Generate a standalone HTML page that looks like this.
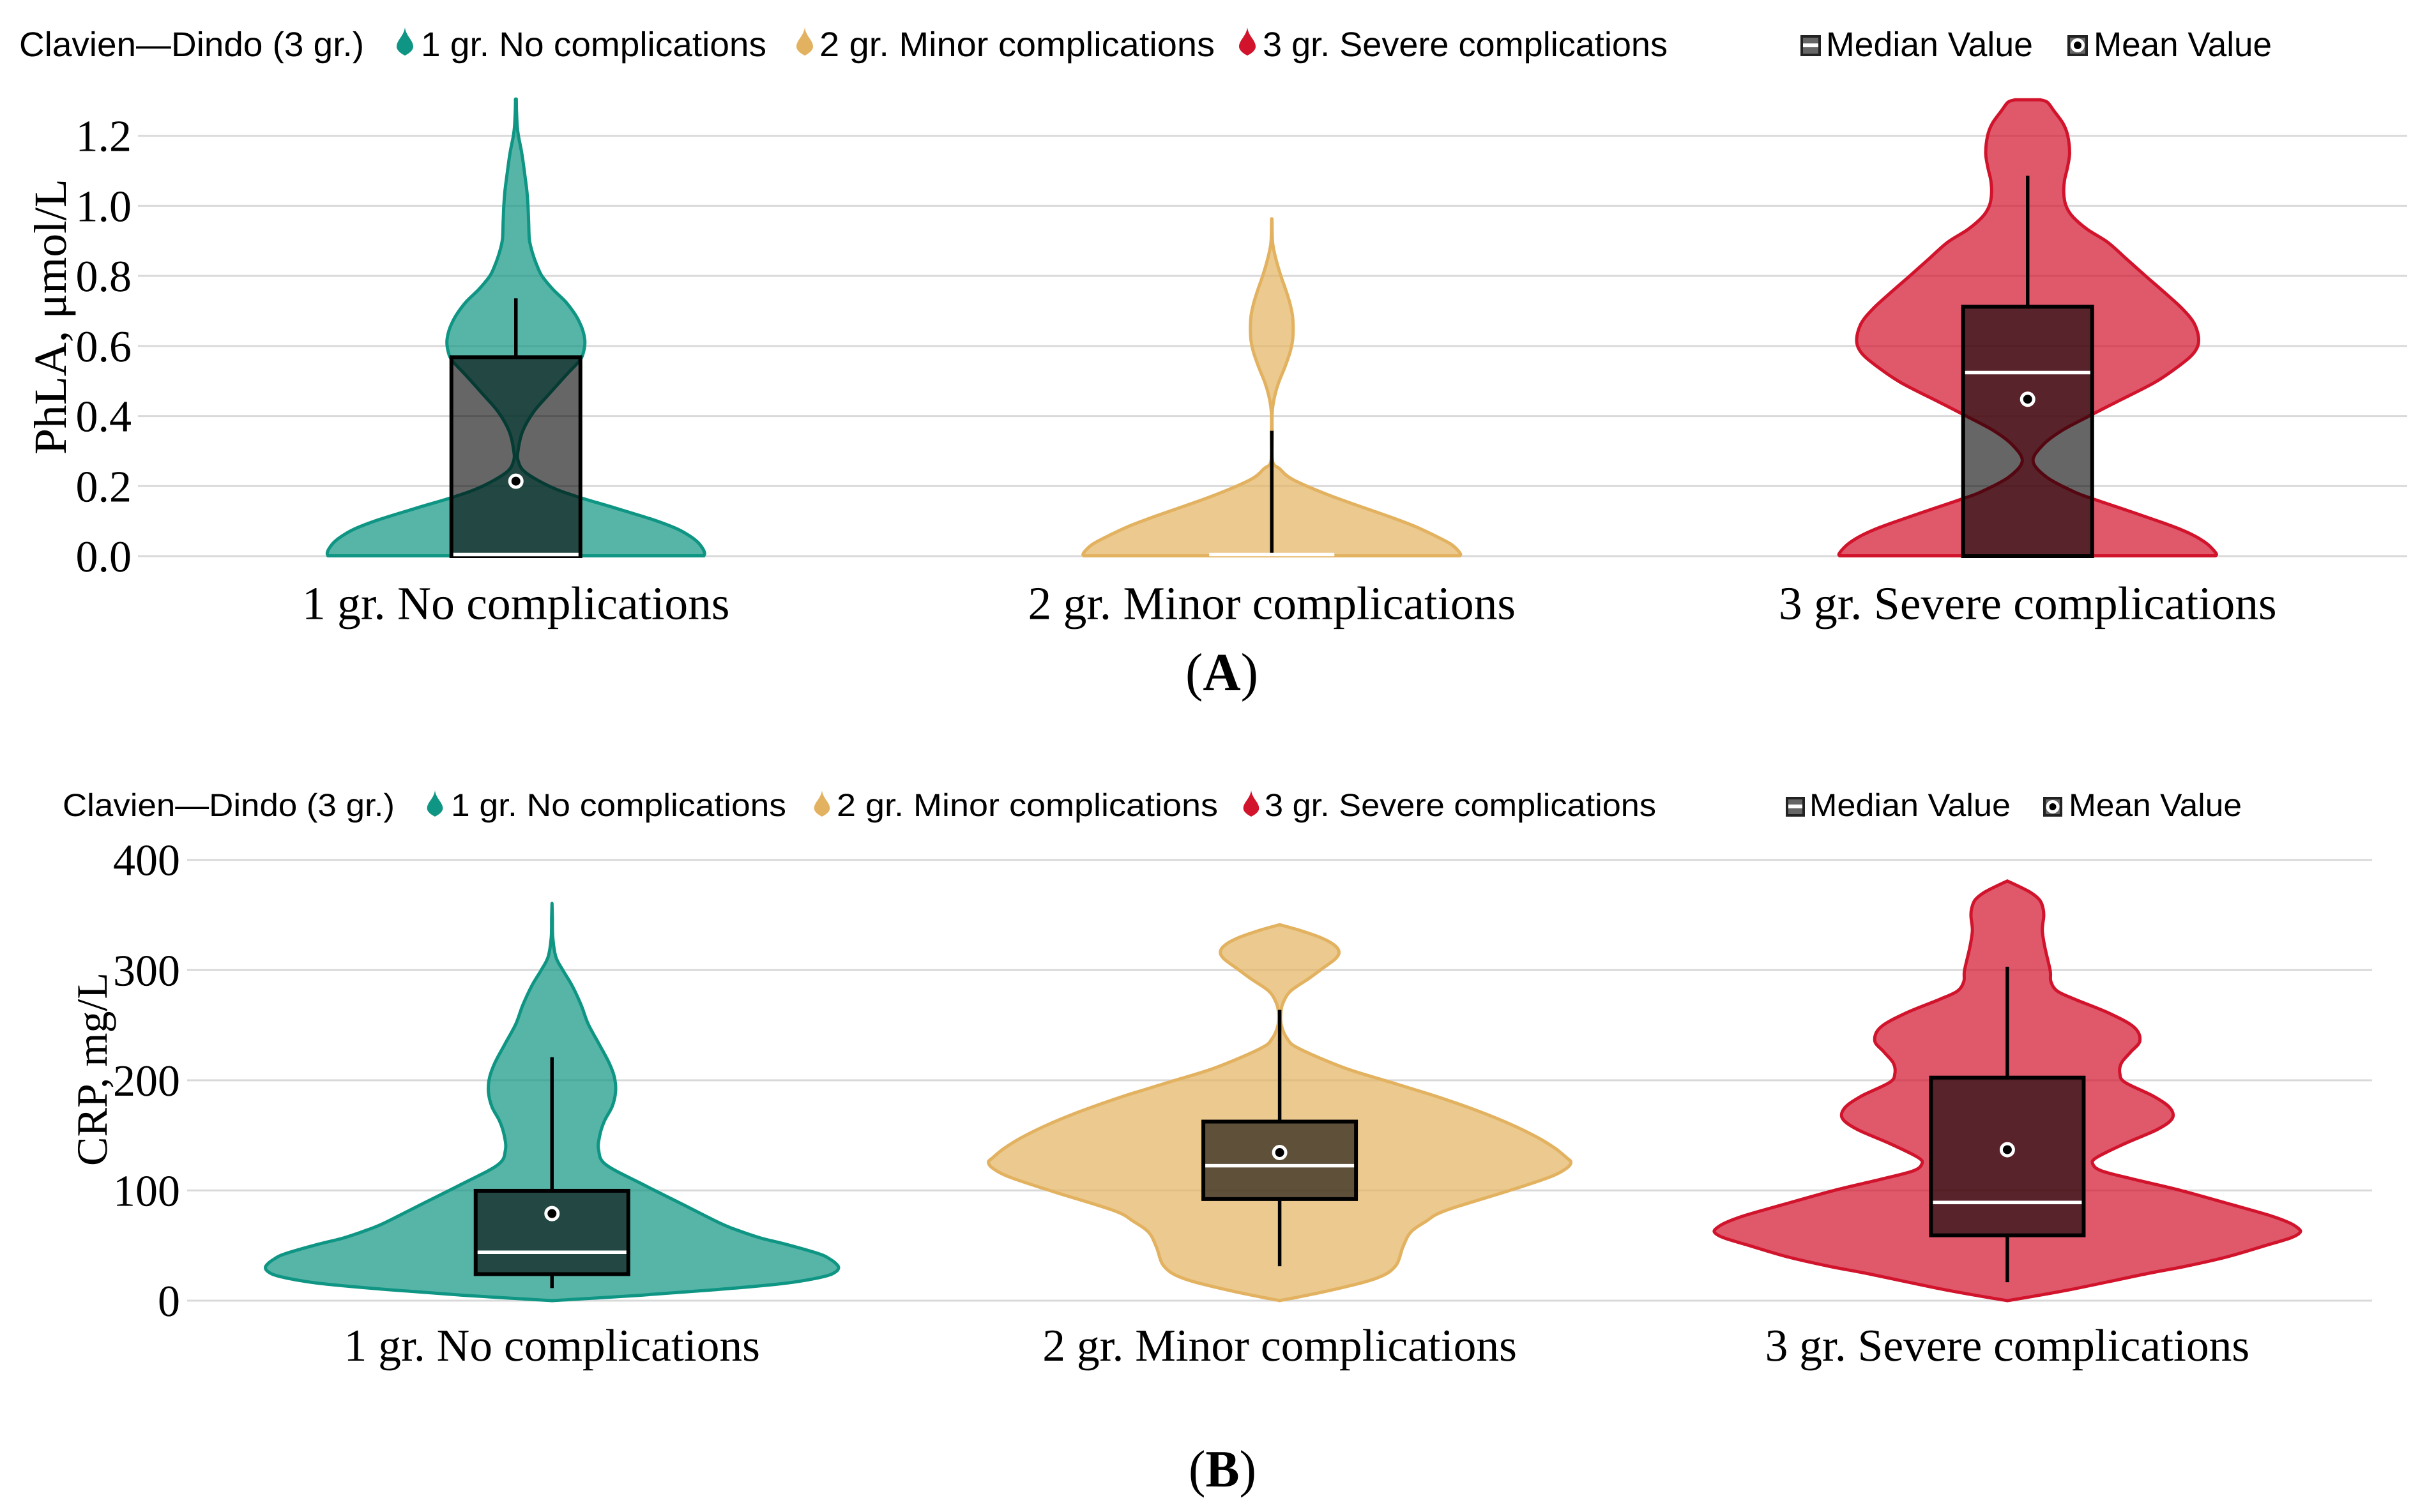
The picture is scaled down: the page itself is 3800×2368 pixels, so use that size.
<!DOCTYPE html>
<html lang="en">
<head>
<meta charset="utf-8">
<title>Clavien-Dindo violin plots</title>
<style>
html,body{margin:0;padding:0;background:#fff;}
svg{display:block;text-rendering:geometricPrecision;}
.serif{font-family:"Liberation Serif",serif;fill:#000;}
.sans{font-family:"Liberation Sans",sans-serif;fill:#000;}
</style>
</head>
<body>
<svg id="figure" xmlns="http://www.w3.org/2000/svg" width="3800" height="2368" viewBox="0 0 3800 2368">
  <rect x="0" y="0" width="3800" height="2368" fill="#fff"/>

  <g>
    <text class="sans" x="30" y="88" font-size="54" textLength="540" lengthAdjust="spacingAndGlyphs">Clavien—Dindo (3 gr.)</text>
    <path fill="#0f9583" transform="translate(634,43)" d="M0,0 C2,14 13,20 13,30 C13,36 6,41 0,44 C-6,41 -13,36 -13,30 C-13,20 -2,14 0,0 Z"/>
    <text class="sans" x="659" y="88" font-size="54" textLength="541" lengthAdjust="spacingAndGlyphs">1 gr. No complications</text>
    <path fill="#e2b260" transform="translate(1260,43)" d="M0,0 C2,14 13,20 13,30 C13,36 6,41 0,44 C-6,41 -13,36 -13,30 C-13,20 -2,14 0,0 Z"/>
    <text class="sans" x="1283" y="88" font-size="54" textLength="619" lengthAdjust="spacingAndGlyphs">2 gr. Minor complications</text>
    <path fill="#d1132c" transform="translate(1953,43)" d="M0,0 C2,14 13,20 13,30 C13,36 6,41 0,44 C-6,41 -13,36 -13,30 C-13,20 -2,14 0,0 Z"/>
    <text class="sans" x="1977" y="88" font-size="54" textLength="634" lengthAdjust="spacingAndGlyphs">3 gr. Severe complications</text>
    <g>
      <rect x="2821" y="57" width="28" height="29" fill="#666" stroke="#222" stroke-width="4"/>
      <rect x="2823" y="68" width="24" height="6" fill="#fff"/>
    </g>
    <text class="sans" x="2859" y="88" font-size="54" textLength="324" lengthAdjust="spacingAndGlyphs">Median Value</text>
    <g>
      <rect x="3239" y="57" width="28" height="29" fill="#666" stroke="#222" stroke-width="4"/>
      <circle cx="3253" cy="71" r="8.5" fill="#000" stroke="#fff" stroke-width="5"/>
    </g>
    <text class="sans" x="3278" y="88" font-size="54" textLength="279" lengthAdjust="spacingAndGlyphs">Mean Value</text>
  </g>

  <g>
    <text class="sans" x="98" y="1278" font-size="50" textLength="520" lengthAdjust="spacingAndGlyphs">Clavien—Dindo (3 gr.)</text>
    <path fill="#0f9583" transform="translate(681,1238) scale(.95,.93)" d="M0,0 C2,14 13,20 13,30 C13,36 6,41 0,44 C-6,41 -13,36 -13,30 C-13,20 -2,14 0,0 Z"/>
    <text class="sans" x="706" y="1278" font-size="50" textLength="525" lengthAdjust="spacingAndGlyphs">1 gr. No complications</text>
    <path fill="#e2b260" transform="translate(1287,1238) scale(.95,.93)" d="M0,0 C2,14 13,20 13,30 C13,36 6,41 0,44 C-6,41 -13,36 -13,30 C-13,20 -2,14 0,0 Z"/>
    <text class="sans" x="1310" y="1278" font-size="50" textLength="597" lengthAdjust="spacingAndGlyphs">2 gr. Minor complications</text>
    <path fill="#d1132c" transform="translate(1959,1238) scale(.95,.93)" d="M0,0 C2,14 13,20 13,30 C13,36 6,41 0,44 C-6,41 -13,36 -13,30 C-13,20 -2,14 0,0 Z"/>
    <text class="sans" x="1980" y="1278" font-size="50" textLength="613" lengthAdjust="spacingAndGlyphs">3 gr. Severe complications</text>
    <g>
      <rect x="2798" y="1250" width="26" height="27" fill="#666" stroke="#222" stroke-width="4"/>
      <rect x="2800" y="1260" width="22" height="6" fill="#fff"/>
    </g>
    <text class="sans" x="2833" y="1278" font-size="50" textLength="315" lengthAdjust="spacingAndGlyphs">Median Value</text>
    <g>
      <rect x="3201" y="1250" width="26" height="27" fill="#666" stroke="#222" stroke-width="4"/>
      <circle cx="3214" cy="1263.5" r="8" fill="#000" stroke="#fff" stroke-width="5"/>
    </g>
    <text class="sans" x="3239" y="1278" font-size="50" textLength="271" lengthAdjust="spacingAndGlyphs">Mean Value</text>
  </g>

  <g id="panelA"></g>
  <g id="panelB"></g>

  <text class="serif" transform="translate(103,712) rotate(-90)" font-size="72" textLength="432" lengthAdjust="spacingAndGlyphs">PhLA, μmol/L</text>
  <text class="serif" transform="translate(167,1826) rotate(-90)" font-size="68" textLength="303" lengthAdjust="spacingAndGlyphs">CRP, mg/L</text>

  <text class="serif" x="1856" y="1081" font-size="84" textLength="114" lengthAdjust="spacingAndGlyphs">(<tspan font-weight="bold">A</tspan>)</text>
  <text class="serif" x="1861" y="2328" font-size="82" textLength="106" lengthAdjust="spacingAndGlyphs">(<tspan font-weight="bold">B</tspan>)</text>
</svg>

<script>
const categories = ["1 gr. No complications", "2 gr. Minor complications", "3 gr. Severe complications"];

const aTickValues = [0, 0.2, 0.4, 0.6, 0.8, 1.0, 1.2];
const aTickLabels = ["0.0", "0.2", "0.4", "0.6", "0.8", "1.0", "1.2"];
const bTickValues = [0, 100, 200, 300, 400];
const bTickLabels = ["0", "100", "200", "300", "400"];

/* Panel A: PhLA, density profiles (value, relative density) */
const aViolin1Values = [1.305,1.2715,1.229,1.2,1.15,1.09,1.041,1.0,0.956,0.908,0.884,0.859,0.829,0.8,0.762,0.726,0.69,0.659,0.635,0.611,0.585,0.559,0.519,0.465,0.412,0.358,0.305,0.271,0.238,0.198,0.171,0.138,0.104,0.08,0.06,0.04,0.02,0.008,0.001];
const aViolin1Density = [0.5,0.8,1.7,3.3,7.7,11.5,14.3,15.7,16.5,17.3,19.3,22.5,27.5,33.8,48,64.6,77,84.4,88,89.6,88,83,66,44,23,9,3,3,13,45,78,128,178,207,224,236,243,245,244];
const aViolin2Values = [0.963,0.926,0.89,0.847,0.8,0.762,0.726,0.689,0.653,0.616,0.58,0.537,0.495,0.458,0.428,0.398,0.35,0.271,0.25,0.218,0.171,0.111,0.084,0.057,0.035,0.018,0.006,0.001];
const aViolin2Density = [0.3,0.5,1.4,5.5,11.8,17.9,23,26.7,27.8,27,23.4,16.5,8.8,3.9,1.4,0.4,0.5,1,10,28,78,155,187,213,232,241,245,244];
const aViolin3Values = [1.303,1.296,1.2715,1.235,1.2,1.15,1.108,1.072,1.035,1.0,0.968,0.932,0.896,0.847,0.8,0.756,0.708,0.665,0.617,0.581,0.544,0.496,0.441,0.423,0.398,0.358,0.318,0.271,0.225,0.184,0.164,0.13,0.098,0.075,0.055,0.035,0.018,0.006,0.001];
const aViolin3Density = [16,25.5,34,46,52,54.4,51.5,47.8,46.9,49.8,59,78,104,129,153,176,200,216,222,216,197,165,116,100,78,44,20,7,25,60,84,130,172,200,219,233,241,245,244];

const aQ1 = [0, 0, 0];
const aQ3 = [0.568, 0, 0.712];
const aMedian = [0, 0, 0.524];
const aMean = [0.214, null, 0.448];
const aWhiskerLow = [0, 0.004, 0];
const aWhiskerHigh = [0.736, 0.358, 1.086];

/* Panel B: CRP, density profiles (value, relative density) */
const bViolin1Values = [360.5,348,329.8,312,300,286,268,251,233,216,202.7,189.5,176,163,150,136.6,123.4,105.8,88.3,70.7,64.1,57,50.9,42.2,38,34,30,26,22.4,18,15,10,4.8,0];
const bViolin1Density = [0,0.5,1,5,14,26,38,47,61,74,81,82.5,78,68,62,60.5,70,117,167,217,240,270,305,348,360,368,372,368,356,325,293,213,113,0];
const bViolin2Values = [341.2,336.3,329.8,323.2,316.6,310,301.2,292.4,281.5,272.7,263.9,250.7,237.6,228.8,211,198,185,172,160,148,138,130,125.6,120,112,99.2,81.7,72,62,48.7,31.2,20.2,9.2,0];
const bViolin2Density = [0,25,52,70,77,72,55,38,15,6,2,2,10,25,85,145,205,258,300,335,358,372,378,372,350,295,215,190,170,160,150,125,65,0];
const bViolin3Values = [380.9,371,363.8,356,348.7,336,321,299.7,289.7,281,273.4,260.9,248.2,235.7,225.6,215.6,206,198,185.4,175,165.3,155.3,142.7,130,123.9,117.6,110,100,87.4,77.4,71,66,62,57,50,39.7,31,24.6,9.5,0];
const bViolin3Density = [0,28.7,41.7,46.3,47.2,45.4,48.6,55.6,56.5,64.8,88,132,164.4,172,160,148,146,153,190,211,214,194.5,153,116,111,123,165,225,290,340,365,377,380,368,335,285,230,182,78,0];

const bQ1 = [24.1, 92.2, 59.3];
const bQ3 = [99.7, 162.5, 202.4];
const bMedian = [43.9, 122.5, 89.1];
const bMean = [79, 134.4, 137];
const bWhiskerLow = [11.4, 31.2, 16.7];
const bWhiskerHigh = [220.9, 263.9, 303];

const strokeColors = ["#0f9583", "#e2b260", "#d1132c"];

const SVG_NS = "http://www.w3.org/2000/svg";

function make(tag, parent, attrs, text) {
  const node = document.createElementNS(SVG_NS, tag);
  for (const k in attrs) node.setAttribute(k, attrs[k]);
  if (text !== undefined) node.textContent = text;
  parent.appendChild(node);
  return node;
}

function linearScale(d0, d1, r0, r1) {
  return function (v) { return r0 + (v - d0) * (r1 - r0) / (d1 - d0); };
}

function smooth(points, start) {
  let d = start ? "M" + points[0][0].toFixed(1) + "," + points[0][1].toFixed(1) : "L" + points[0][0].toFixed(1) + "," + points[0][1].toFixed(1);
  for (let i = 0; i < points.length - 1; i++) {
    const p0 = points[Math.max(i - 1, 0)], p1 = points[i], p2 = points[i + 1], p3 = points[Math.min(i + 2, points.length - 1)];
    const c1x = p1[0] + (p2[0] - p0[0]) / 6, c1y = p1[1] + (p2[1] - p0[1]) / 6;
    const c2x = p2[0] - (p3[0] - p1[0]) / 6, c2y = p2[1] - (p3[1] - p1[1]) / 6;
    d += "C" + c1x.toFixed(1) + "," + c1y.toFixed(1) + " " + c2x.toFixed(1) + "," + c2y.toFixed(1) + " " + p2[0].toFixed(1) + "," + p2[1].toFixed(1);
  }
  return d;
}

function drawPanel(cfg) {
  const root = document.getElementById(cfg.id);
  const y = linearScale(cfg.domain[0], cfg.domain[1], cfg.bottom, cfg.top);
  const bandWidth = (cfg.catRight - cfg.catLeft) / categories.length;
  const cx = function (i) { return cfg.catLeft + bandWidth * (i + 0.5); };

  cfg.tickValues.forEach(function (t, i) {
    const line = make("line", root, { x1: cfg.left, x2: cfg.right, y1: y(t), y2: y(t), stroke: "#d9d9d9", "stroke-width": 3 });
    
    
    const label = make("text", root, { x: cfg.tickRight, y: y(t) + 24, "text-anchor": "end", "font-size": 70, class: "serif" }, cfg.tickLabels[i]);
    
    
  });

  categories.forEach(function (name, i) {
    const c = cx(i);
    const group = make("g", root, {});
    
    

    const right = cfg.values[i].map(function (v, k) { return [c + cfg.densityScale(cfg.density[i][k]), y(v)]; });
    const left = cfg.values[i].map(function (v, k) { return [c - cfg.densityScale(cfg.density[i][k]), y(v)]; }).reverse();
    const violin = make("path", group, {
      d: smooth(right, true) + smooth(left, false) + "Z",
      fill: strokeColors[i], "fill-opacity": 0.7, stroke: strokeColors[i], "stroke-width": 5, "stroke-linejoin": "round"
    });
    
    

    const whiskerHigh = make("line", group, { x1: c, x2: c, y1: y(cfg.whiskerHigh[i]), y2: y(cfg.q3[i]), stroke: "#000", "stroke-width": 5.5 });
    
    
    const whiskerLow = make("line", group, { x1: c, x2: c, y1: y(cfg.q1[i]), y2: y(cfg.whiskerLow[i]), stroke: "#000", "stroke-width": 5.5 });
    
    

    if (cfg.q3[i] > cfg.q1[i]) {
      const box = make("rect", group, {
        x: c - cfg.boxHalf, width: cfg.boxHalf * 2, y: y(cfg.q3[i]), height: y(cfg.q1[i]) - y(cfg.q3[i]),
        fill: "#000", "fill-opacity": 0.6, stroke: "#000", "stroke-width": 6
      });
      
      
    }

    const medianY = cfg.q1[i] === cfg.median[i] ? y(cfg.median[i]) - 2.5 : y(cfg.median[i]);
    const median = make("line", group, { x1: c - cfg.boxHalf + 3, x2: c + cfg.boxHalf - 3, y1: medianY, y2: medianY, stroke: "#fff", "stroke-width": 5.5 });
    
    

    if (cfg.mean[i] !== null) {
      const mean = make("circle", group, { cx: c, cy: y(cfg.mean[i]), r: 9.5, fill: "#000", stroke: "#fff", "stroke-width": 5 });
      
      
    }

    const label = make("text", root, { x: c, y: cfg.labelY, "text-anchor": "middle", "font-size": cfg.labelSize, class: "serif" }, name);
    
    
  });
}

drawPanel({
  id: "panelA", left: 216, right: 3769, catLeft: 216, catRight: 3766.5, top: 212.7, bottom: 871, domain: [0, 1.2], tickRight: 206,
  tickValues: aTickValues, tickLabels: aTickLabels, labelY: 969.5, labelSize: 73.5, boxHalf: 101,
  densityScale: linearScale(0, 245, 0, 295.5),
  values: [aViolin1Values, aViolin2Values, aViolin3Values],
  density: [aViolin1Density, aViolin2Density, aViolin3Density],
  q1: aQ1, q3: aQ3, median: aMedian, mean: aMean, whiskerLow: aWhiskerLow, whiskerHigh: aWhiskerHigh
});

drawPanel({
  id: "panelB", left: 293, right: 3714, catLeft: 294.6, catRight: 3712.6, top: 1346.7, bottom: 2037, domain: [0, 400], tickRight: 282,
  tickValues: bTickValues, tickLabels: bTickLabels, labelY: 2131, labelSize: 71.5, boxHalf: 119.5,
  densityScale: linearScale(0, 378, 0, 456),
  values: [bViolin1Values, bViolin2Values, bViolin3Values],
  density: [bViolin1Density, bViolin2Density, bViolin3Density],
  q1: bQ1, q3: bQ3, median: bMedian, mean: bMean, whiskerLow: bWhiskerLow, whiskerHigh: bWhiskerHigh
});
</script>
</body>
</html>
